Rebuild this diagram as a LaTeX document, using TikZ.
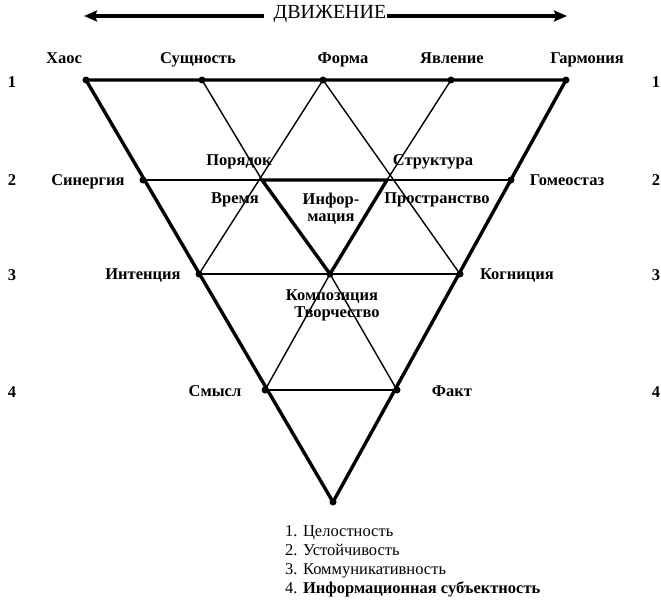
\documentclass[tikz,border=0pt]{standalone}
\usepackage{fontspec}
\setmainfont{Liberation Serif}
\usetikzlibrary{arrows.meta,positioning}

\begin{document}
\begin{tikzpicture}[x=1pt, y=-1pt,
    lbl2/.style={font=\fontsize{16.5}{17}\selectfont\bfseries, inner sep=1pt, align=center},
    lbl/.style={lbl2, text height=11pt, text depth=4pt, yshift=-2pt},
    num/.style={font=\fontsize{16.5}{17}\selectfont\bfseries, inner sep=1pt},
    leg/.style={font=\fontsize{16.5}{19}\selectfont, align=left, anchor=north west, inner sep=0pt},
    fine/.style={line width=1.4pt},
    heavy/.style={line width=3.4pt, line join=round},
    dot/.style={circle, fill=black, inner sep=0pt, minimum size=7pt},
    arr/.style={-{Stealth[length=13pt, width=11pt, inset=2pt]}, line width=3.6pt}
  ]
  \useasboundingbox (0,0) rectangle (661,602);

  % points of the grid
  \coordinate (haos) at (86,80);
  \coordinate (sush) at (202,80);
  \coordinate (forma) at (323,80);
  \coordinate (yavl) at (451,80);
  \coordinate (garm) at (566,80);
  \coordinate (sin) at (143,180);
  \coordinate (por) at (262,180);
  \coordinate (str) at (387,180);
  \coordinate (gom) at (511,180);
  \coordinate (int) at (199,274);
  \coordinate (komp) at (330,274);
  \coordinate (kog) at (460,274);
  \coordinate (sm) at (265,390);
  \coordinate (fakt) at (397,390);
  \coordinate (niz) at (333,502);

  % movement arrow
  \node[font=\fontsize{20}{21}\selectfont, inner sep=0pt] (mv) at (330,14) {ДВИЖЕНИЕ};
  \coordinate (mvl) at (84,16);
  \coordinate (mvr) at (567,16);
  \draw[arr] ([xshift=-9pt]mv.west |- mvl) -- (mvl);
  \draw[arr] (mv.east |- mvr) -- (mvr);

  % inner lines
  \draw[fine] (sin) -- (gom);
  \draw[fine] (int) -- (kog);
  \draw[fine] (sm) -- (fakt);
  \draw[fine] (sush) -- (por);
  \draw[fine] (komp) -- (fakt);
  \draw[fine] (yavl) -- (str);
  \draw[fine] (komp) -- (sm);
  \draw[fine] (forma) -- (int);
  \draw[fine] (forma) -- (kog);

  % information triangle
  \draw[heavy] (por) -- (str) -- (komp) -- cycle;

  % outer triangle
  \draw[heavy] (haos) -- (garm) -- (niz) -- cycle;

  \foreach \p in {haos, sush, forma, yavl, garm, sin, gom, int, komp, kog, sm, fakt, niz}
    \node[dot] at (\p) {};

  % labels
  \node[lbl] (l-haos) at (64,58) {Хаос};
  \node[lbl] (l-sush) at (198,58) {Сущность};
  \node[lbl] (l-forma) at (343,58) {Форма};
  \node[lbl] (l-yavl) at (452,58) {Явление};
  \node[lbl] (l-garm) at (587,58) {Гармония};
  \node[lbl] (l-sin) at (88,180) {Синергия};
  \node[lbl] (l-gom) at (567,180) {Гомеостаз};
  \node[lbl] (l-int) at (143,274) {Интенция};
  \node[lbl] (l-kog) at (517,274) {Когниция};
  \node[lbl] (l-sm) at (215,391) {Смысл};
  \node[lbl] (l-fakt) at (452,391) {Факт};
  \node[lbl] (l-por) at (239,160) {Порядок};
  \node[lbl] (l-str) at (433,160) {Структура};
  \node[lbl] (l-vr) at (235,198) {Время};
  \node[lbl] (l-prost) at (437,198) {Пространство};
  \node[lbl2] (l-inf) at (331,209) {Инфор-\\мация};
  \node[lbl2] (l-komp) at (332,305) {Композиция\\\hspace*{10pt}Творчество};

  % levels
  \foreach \n/\y in {1/82, 2/180, 3/275, 4/392} {
    \node[num] (nl\n) at (12,\y) {\n};
    \node[num] (nr\n) at (656,\y) {\n};
  }

  % legend
  \node[leg] (legend) at (285,525) {1. Целостность\\2. Устойчивость\\3. Коммуникативность\\4. \textbf{Информационная субъектность}};
\end{tikzpicture}
\end{document}
